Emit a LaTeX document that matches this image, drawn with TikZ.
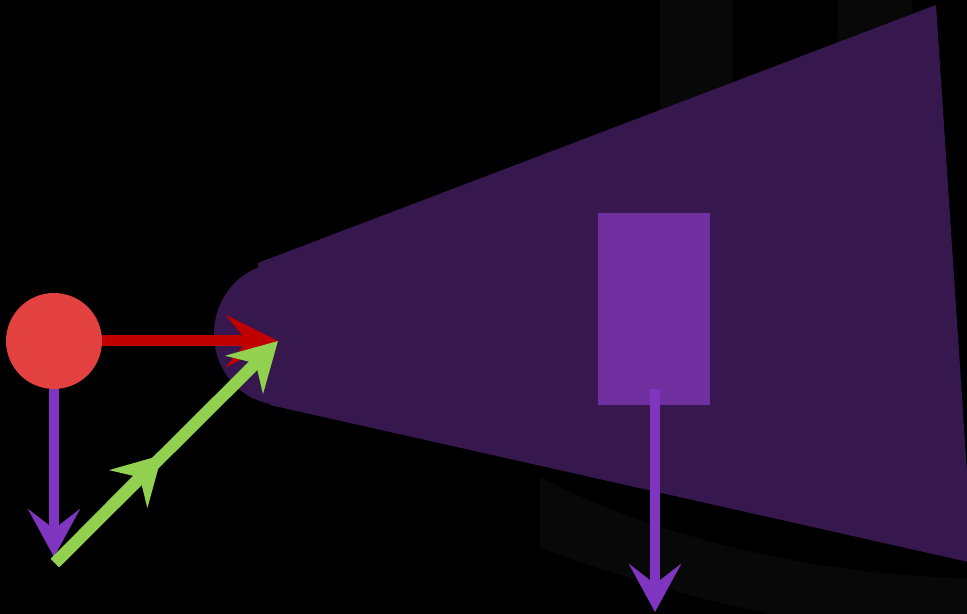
\documentclass[tikz,border=0pt]{standalone}
\usetikzlibrary{arrows.meta}
\definecolor{conecol}{RGB}{54,24,78}
\definecolor{boxcol}{RGB}{112,48,160}
\definecolor{redfill}{RGB}{227,64,64}
\definecolor{redline}{RGB}{192,0,0}
\definecolor{purpline}{RGB}{128,53,192}
\definecolor{greenline}{RGB}{146,208,80}
\definecolor{ghost}{RGB}{8,8,8}
\tikzset{
  redarrow/.style={draw=redline, line width=0.22cm, -{Stealth[length=1.04cm,width=1.04cm,inset=0.42cm]}},
  purparrow/.style={draw=purpline, line width=0.21cm, -{Stealth[length=0.96cm,width=1.04cm,inset=0.4cm]}},
  greenarrow/.style={draw=greenline, line width=0.24cm, -{Stealth[length=0.95cm,width=1.06cm,inset=0.32cm]}},
  ghostshape/.style={fill=ghost},
}
\begin{document}
\begin{tikzpicture}[x=0.02cm,y=-0.02cm]
\fill[black] (0,0) rectangle (967,614);
\useasboundingbox (0,0) rectangle (967,614);
\clip (0,0) rectangle (967,614);
% faint background shapes
\fill[ghostshape] (660,0) rectangle (733,300);
\fill[ghostshape] (838,0) rectangle (912,300);
\fill[ghostshape] (540,477) .. controls (640,530) and (800,575) .. (967,578) -- (967,614) -- (770,614) .. controls (680,595) and (600,570) .. (540,548) -- cycle;
% cone
\fill[conecol] (258,263) -- (936,5) -- (973,563) -- (270,405) -- cycle;
\fill[conecol] (282,334) ellipse [x radius=1.36cm, y radius=1.42cm];
% box
\node[fill=boxcol, minimum width=2.24cm, minimum height=3.84cm, inner sep=0pt] (box) at (654,309) {};
\coordinate (boxtop) at (655,389);
\coordinate (boxend) at (655,612);
\draw[purparrow] (boxtop) -- (boxend);
% source
\node[circle, fill=redfill, minimum size=1.92cm, inner sep=0pt] (src) at (54,341) {};
\coordinate (focus) at (278,341);
\coordinate (low) at (54,557);
\coordinate (gstart) at (55,563);
\coordinate (gmid) at (162,455);
\draw[purparrow] (src.south) -- (low);
\draw[redarrow] (src.east) -- (focus);
\draw[greenarrow] (gstart) -- (focus);
\draw[greenarrow] (gstart) -- (gmid);
\end{tikzpicture}
\end{document}
